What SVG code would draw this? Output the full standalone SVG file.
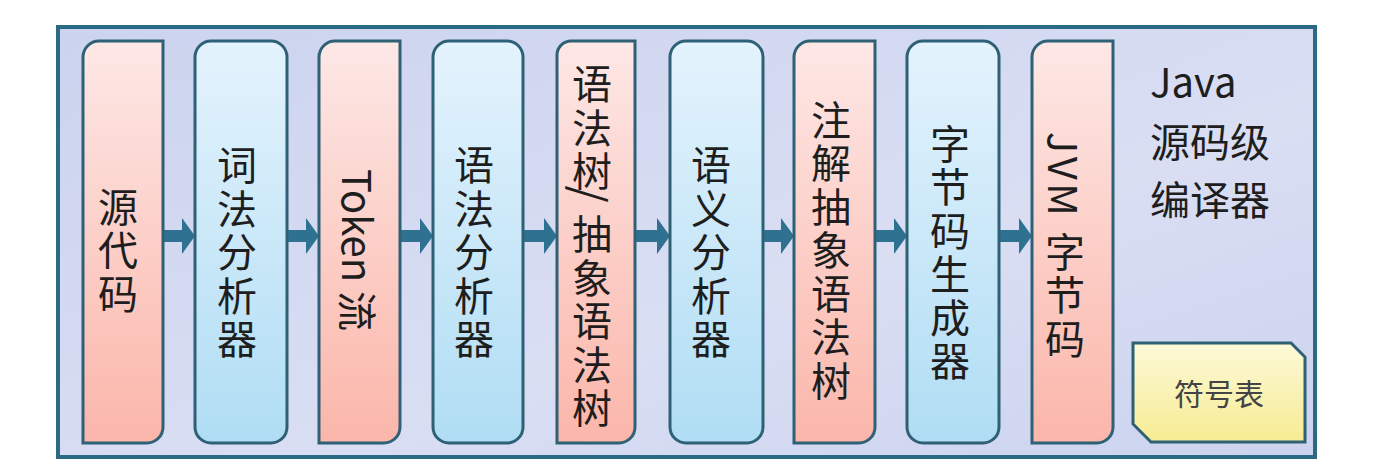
<svg xmlns="http://www.w3.org/2000/svg" width="1378" height="476" viewBox="0 0 1378 476">
<style>
.t{font-family:"Noto Sans CJK SC","Noto Sans",sans-serif;font-size:40px;fill:#1e1e1e}
.v{writing-mode:vertical-rl;text-orientation:mixed;letter-spacing:3.5px;text-anchor:middle}
.vs{writing-mode:vertical-rl;text-orientation:mixed;letter-spacing:3.5px;text-anchor:start}
.edge{stroke:#2e6176;stroke-width:3}
.pink{fill:url(#gp)}
.blue{fill:url(#gb)}
.arr{fill:#2f7191}
</style>
<defs>
<linearGradient id="gp" x1="0" y1="0" x2="0" y2="1"><stop offset="0" stop-color="#fde8e6"/><stop offset="1" stop-color="#fbb6aa"/></linearGradient>
<linearGradient id="gb" x1="0" y1="0" x2="0" y2="1"><stop offset="0" stop-color="#e4f3fd"/><stop offset="1" stop-color="#b0ddf4"/></linearGradient>
<linearGradient id="gy" x1="0" y1="0" x2="0" y2="1"><stop offset="0" stop-color="#fdf9d8"/><stop offset="1" stop-color="#f7ec93"/></linearGradient>
<linearGradient id="gbg" x1="0" y1="0" x2="1" y2="1"><stop offset="0" stop-color="#ccd3ee"/><stop offset="0.6" stop-color="#d9def3"/><stop offset="1" stop-color="#ccd3ee"/></linearGradient>
</defs>
<rect x="0" y="0" width="1378" height="476" fill="#ffffff"/>
<g id="frame">
<rect x="58" y="27" width="1257" height="430" fill="url(#gbg)" stroke="#2b6a84" stroke-width="4"/>
<text class="t" x="1150" y="97">Java</text>
<text class="t" x="1150" y="157">源码级</text>
<text class="t" x="1150" y="215">编译器</text>
</g>
<g id="connectors">
<path class="arr" d="M163,230 H182 V218 L195,236 L182,254 V242 H163 Z"/>
<path class="arr" d="M287,230 H306 V218 L319,236 L306,254 V242 H287 Z"/>
<path class="arr" d="M400,230 H420 V218 L433,236 L420,254 V242 H400 Z"/>
<path class="arr" d="M523,230 H544 V218 L557,236 L544,254 V242 H523 Z"/>
<path class="arr" d="M635,230 H657 V218 L670,236 L657,254 V242 H635 Z"/>
<path class="arr" d="M763,230 H781 V218 L794,236 L781,254 V242 H763 Z"/>
<path class="arr" d="M875,230 H894 V218 L907,236 L894,254 V242 H875 Z"/>
<path class="arr" d="M999,230 H1019 V218 L1032,236 L1019,254 V242 H999 Z"/>
</g>
<g id="n1">
<path class="pink edge" d="M99,41 H163 V427 A16,16 0 0 1 147,443 H83 V57 A16,16 0 0 1 99,41 Z"/>
<text class="t v" x="118" y="252">源代码</text>
</g>
<g id="n2">
<rect class="blue edge" x="195" y="41" width="92" height="402" rx="16"/>
<text class="t v" x="237" y="254">词法分析器</text>
</g>
<g id="n3">
<path class="pink edge" d="M335,41 H400 V427 A16,16 0 0 1 384,443 H319 V57 A16,16 0 0 1 335,41 Z"/>
<text class="t" x="0" y="0" text-anchor="middle" transform="translate(342,250) rotate(90)">Token 流</text>
</g>
<g id="n4">
<rect class="blue edge" x="433" y="41" width="90" height="402" rx="16"/>
<text class="t v" x="474" y="254">语法分析器</text>
</g>
<g id="n5">
<path class="pink edge" d="M571,41 H635 V427 A16,16 0 0 1 619,443 H557 V55 A14,14 0 0 1 571,41 Z"/>
<text class="t vs" x="592" y="64">语法树</text>
<text class="t" x="0" y="0" text-anchor="middle" dominant-baseline="central" style="font-size:44px" transform="translate(592,194) rotate(90)">/</text>
<text class="t vs" x="592" y="214">抽象语法树</text>
</g>
<g id="n6">
<rect class="blue edge" x="670" y="41" width="93" height="402" rx="16"/>
<text class="t v" x="711" y="254">语义分析器</text>
</g>
<g id="n7">
<path class="pink edge" d="M810,41 H875 V427 A16,16 0 0 1 859,443 H794 V57 A16,16 0 0 1 810,41 Z"/>
<text class="t v" x="831" y="252">注解抽象语法树</text>
</g>
<g id="n8">
<rect class="blue edge" x="907" y="41" width="92" height="402" rx="16"/>
<text class="t v" x="950" y="254">字节码生成器</text>
</g>
<g id="n9">
<path class="pink edge" d="M1048,41 H1113 V427 A16,16 0 0 1 1097,443 H1032 V57 A16,16 0 0 1 1048,41 Z"/>
<text class="t v" x="1065" y="247">JVM 字节码</text>
</g>
<g id="symtab">
<path fill="url(#gy)" class="edge" d="M1133,343 H1291 L1305,357 V442 H1151 L1133,424 Z"/>
<text class="t" x="1219" y="405" text-anchor="middle" style="font-size:30px;fill:#444">符号表</text>
</g>
</svg>
